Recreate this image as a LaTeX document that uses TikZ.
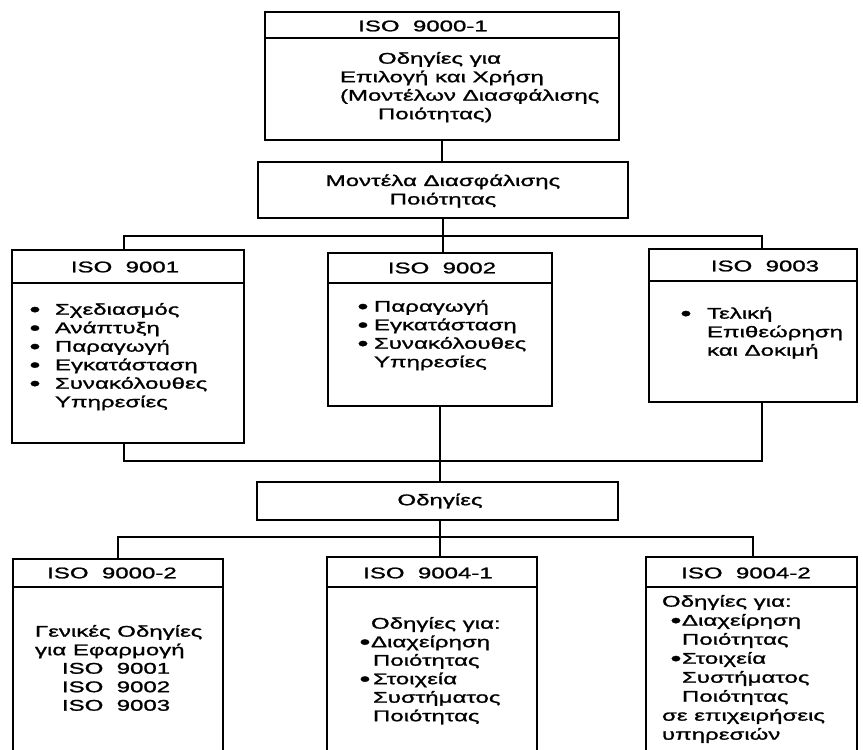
\documentclass[tikz,border=0pt]{standalone}
\usepackage{fontspec}
\setmainfont{Liberation Sans}[FakeStretch=1.55,FakeBold=1.3]
\newcommand\blt[1]{\makebox[#1][l]{\hspace*{-1.5pt}\raisebox{-1.6pt}{\scalebox{1.3}{•}}}}
\begin{document}
\begin{tikzpicture}[x=1pt,y=-1pt,
  frame/.style={draw,line width=1.6pt,rectangle,inner sep=0pt,outer sep=0pt},
  txt/.style={inner sep=0pt,outer sep=0pt,font=\fontsize{15.5}{18.5}\selectfont},
  link/.style={line width=1.6pt}]
\useasboundingbox (0,0) rectangle (863,750);

% top: ISO 9000-1
\node[frame,anchor=north west,minimum width=354pt,minimum height=26pt] (th) at (265,12) {};
\node[frame,anchor=north west,minimum width=354pt,minimum height=102pt] (tb) at (th.south west) {};
\node[txt] (tht) at (423,26) {ISO\ \ 9000-1};
\node[txt,anchor=north west,align=left] (tbt) at (340,52)
  {\hspace*{38pt}Οδηγίες για\\Επιλογή και Χρήση\\(Μοντέλων Διασφάλισης\\\hspace*{38pt}Ποιότητας)};

% quality assurance models
\node[frame,anchor=north west,minimum width=370pt,minimum height=56pt] (m) at (258,162) {};
\node[txt,align=center] (mt) at (443,191) {Μοντέλα Διασφάλισης\\Ποιότητας};

% ISO 9001
\node[frame,anchor=north west,minimum width=232pt,minimum height=33pt] (ah) at (12,250) {};
\node[frame,anchor=north west,minimum width=232pt,minimum height=160pt] (ab) at (ah.south west) {};
\node[txt] (aht) at (125,267) {ISO\ \ 9001};
\node[txt,anchor=north west,align=left] (abt) at (31,303)
  {\blt{24pt}Σχεδιασμός\\\blt{24pt}Ανάπτυξη\\\blt{24pt}Παραγωγή\\\blt{24pt}Εγκατάσταση\\\blt{24pt}Συνακόλουθες\\\hspace*{24pt}Υπηρεσίες};

% ISO 9002
\node[frame,anchor=north west,minimum width=224pt,minimum height=30pt] (bh) at (328,253) {};
\node[frame,anchor=north west,minimum width=224pt,minimum height=123pt] (bb) at (bh.south west) {};
\node[txt] (bht) at (442,268) {ISO\ \ 9002};
\node[txt,anchor=north west,align=left] (bbt) at (359,300)
  {\blt{15pt}Παραγωγή\\\blt{15pt}Εγκατάσταση\\\blt{15pt}Συνακόλουθες\\\hspace*{15pt}Υπηρεσίες};

% ISO 9003
\node[frame,anchor=north west,minimum width=208pt,minimum height=32pt] (ch) at (649,249) {};
\node[frame,anchor=north west,minimum width=208pt,minimum height=121pt] (cb) at (ch.south west) {};
\node[txt] (cht) at (765,266) {ISO\ \ 9003};
\node[txt,anchor=north west,align=left] (cbt) at (682,307)
  {\blt{25pt}Τελική\\\hspace*{25pt}Επιθεώρηση\\\hspace*{25pt}και Δοκιμή};

% guidelines
\node[frame,anchor=north west,minimum width=361pt,minimum height=38pt] (o) at (257,482) {};
\node[txt] (ot) at (440,501) {Οδηγίες};

% ISO 9000-2
\node[frame,anchor=north west,minimum width=210pt,minimum height=28pt] (dh) at (13,559) {};
\node[frame,anchor=north west,minimum width=210pt,minimum height=180pt] (db) at (dh.south west) {};
\node[txt] (dht) at (112,573) {ISO\ \ 9000-2};
\node[txt,anchor=north west,align=left] (dbt) at (35,625)
  {Γενικές Οδηγίες\\για Εφαρμογή\\\hspace*{27pt}ISO\ \ 9001\\\hspace*{27pt}ISO\ \ 9002\\\hspace*{27pt}ISO\ \ 9003};

% ISO 9004-1
\node[frame,anchor=north west,minimum width=210pt,minimum height=30pt] (eh) at (327,557) {};
\node[frame,anchor=north west,minimum width=210pt,minimum height=180pt] (eb) at (eh.south west) {};
\node[txt] (eht) at (428,573) {ISO\ \ 9004-1};
\node[txt,anchor=north west,align=left] (ebt) at (361,617)
  {\hspace*{10pt}Οδηγίες για:\\\blt{10pt}Διαχείρηση\\\hspace*{12pt}Ποιότητας\\\blt{12pt}Στοιχεία\\\hspace*{12pt}Συστήματος\\\hspace*{12pt}Ποιότητας};

% ISO 9004-2
\node[frame,anchor=north west,minimum width=211pt,minimum height=30pt] (fh) at (646,557) {};
\node[frame,anchor=north west,minimum width=211pt,minimum height=180pt] (fb) at (fh.south west) {};
\node[txt] (fht) at (746,573) {ISO\ \ 9004-2};
\node[txt,anchor=north west,align=left,font=\fontsize{15.5}{19}\selectfont] (fbt) at (660,595)
  {\hspace*{2pt}Οδηγίες για:\\\hspace*{12pt}\blt{10pt}Διαχείρηση\\\hspace*{22pt}Ποιότητας\\\hspace*{12pt}\blt{10pt}Στοιχεία\\\hspace*{22pt}Συστήματος\\\hspace*{22pt}Ποιότητας\\\hspace*{2pt}σε επιχειρήσεις\\\hspace*{2pt}υπηρεσιών};

% bus points
\coordinate (u1) at (124,236);
\coordinate (u2) at (762,236);
\coordinate (l1) at (124,461);
\coordinate (l2) at (762,461);
\coordinate (g1) at (118,537);
\coordinate (g2) at (753,537);

% connectors
\draw[link] (tb.south) -- (tb.south |- m.north);
\draw[link] (m.south) -- (m.south |- bh.north);
\draw[link] (u1 |- ah.north) -- (u1) -- (u2) -- (u2 |- ch.north);
\draw[link] (l1 |- ab.south) -- (l1) -- (l2) -- (l2 |- cb.south);
\draw[link] (bb.south -| ot) -- (ot |- o.north);
\draw[link] (o.south -| ot) -- (ot |- eh.north);
\draw[link] (g1 |- dh.north) -- (g1) -- (g2) -- (g2 |- fh.north);
\end{tikzpicture}
\end{document}
